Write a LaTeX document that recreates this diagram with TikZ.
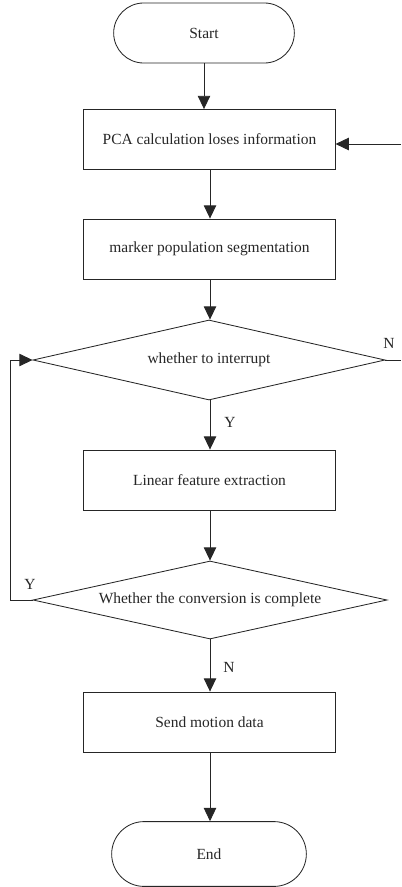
\documentclass[tikz,border=0pt]{standalone}
\usepackage{fontspec}
\setmainfont{Liberation Serif}
\usepackage{tikz}
\usetikzlibrary{positioning,arrows.meta,shapes.geometric,shapes.misc}
\tikzset{
  flowarrow/.style={-{Triangle[length=3.3mm, width=3.1mm]}, line width=0.6pt, draw=black!85},
  flowline/.style={line width=0.6pt, draw=black!85},
  termnode/.style={draw=black!85, line width=0.6pt, rounded rectangle, minimum width=4.75cm, minimum height=1.5cm, align=center, text=black!85},
  procbox/.style={draw=black!85, line width=0.6pt, minimum width=6.28cm, minimum height=1.5cm, align=center, text=black!85},
  decnode/.style={draw=black!85, line width=0.6pt, diamond, shape aspect=4.4, inner sep=0pt, minimum width=8.8cm, minimum height=2cm},
  dectext/.style={text=black!85, inner sep=0pt},
  relabel/.style={font=\fontsize{11}{13}\selectfont, text=black!85, inner sep=1pt}
}

\begin{document}
\begin{tikzpicture}[x=0.025cm, y=-0.025cm, font=\fontsize{11}{13}\selectfont]
      \useasboundingbox (0,0) rectangle (401,887);
      \node[termnode] (start) at (204,33) {Start};
      \node[procbox] (pca) at (209.5,139.5) {PCA calculation loses information};
      \node[procbox] (marker) at (209.5,249) {marker population segmentation};
      \node[decnode] (interrupt) at (209,360) {};
      \node[dectext] (interrupttext) at (interrupt.center) {whether to interrupt};
      \node[procbox] (linear) at (209.5,480) {Linear feature extraction};
      \node[decnode, minimum width=8.85cm, minimum height=1.95cm] (convert) at (210,600) {};
      \node[dectext] (converttext) at (convert.center) {Whether the conversion is complete};
      \node[procbox] (send) at (209.5,722) {Send motion data};
      \node[termnode, minimum width=5.1cm, minimum height=1.62cm] (end) at (209,854) {End};
      \coordinate (back) at (401,144);
      \coordinate (nout) at (401,360);
      \coordinate (loop) at (10,480);
      \draw[flowarrow] (start.south) -- (start.south |- pca.north);
      \draw[flowarrow] (back) -- (back -| pca.east);
      \draw[flowarrow] (pca.south -| 210,0) -- (marker.north -| 210,0);
      \draw[flowarrow] (marker.south -| 210,0) -- (interrupt.north -| 210,0);
      \draw[flowarrow] (interrupt.south -| 210,0) -- (linear.north -| 210,0);
      \draw[flowarrow] (linear.south -| 210,0) -- (convert.north);
      \draw[flowarrow] (convert.south) -- (send.north -| convert.south);
      \draw[flowarrow] (send.south -| 210,0) -- (end.north -| 210,0);
      \draw[flowline] (interrupt.east) -- (nout);
      \draw[flowarrow] (convert.west) -- (convert.west -| loop) |- (interrupt.west);
      \node[relabel] (ny) at (389,343) {N};
      \node[relabel] (yd) at (230,422) {Y};
      \node[relabel] (yl) at (30,584) {Y};
      \node[relabel] (nd) at (229,667) {N};
    \end{tikzpicture}
\end{document}
